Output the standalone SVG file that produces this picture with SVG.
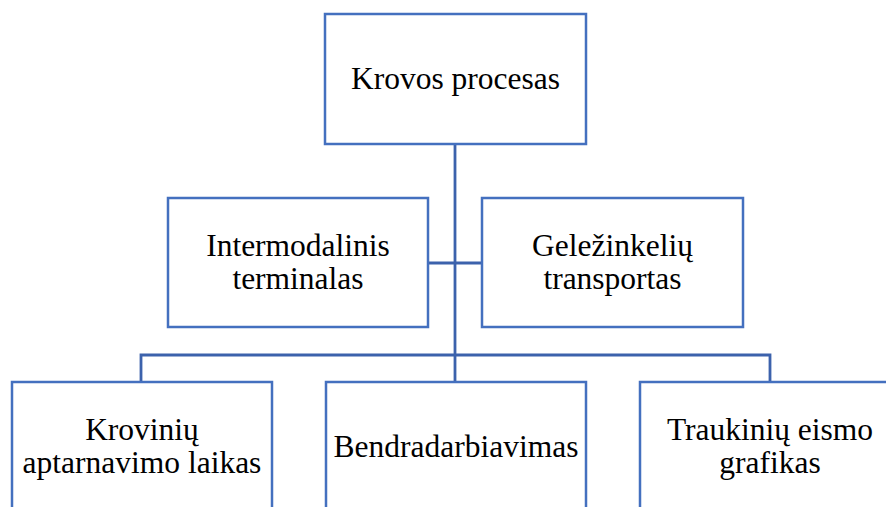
<svg xmlns="http://www.w3.org/2000/svg" width="886" height="507" viewBox="0 0 886 507">
  <style>
    .box { fill: #ffffff; stroke: #4470BF; stroke-width: 2.5; }
    .link { fill: none; stroke: #3C62AC; stroke-width: 2.8; }
    .label { font-family: "Liberation Serif", "Times New Roman", serif; font-size: 31.5px; fill: #000000; text-anchor: middle; }
  </style>
  <rect width="886" height="507" fill="#ffffff"/>

  <!-- connectors -->
  <g id="connectors">
    <path class="link" d="M455,144 V355"/>
    <path class="link" d="M428,263 H482"/>
    <path class="link" d="M141,382 V355 H770 V382"/>
    <path class="link" d="M455,355 V382"/>
  </g>

  <g id="node-krovos">
    <rect class="box" x="325" y="14" width="261" height="130"/>
    <text class="label" x="455.5" y="89">Krovos procesas</text>
  </g>

  <g id="node-intermodalinis">
    <rect class="box" x="168" y="198" width="260" height="129"/>
    <text class="label" x="298" y="256">Intermodalinis</text>
    <text class="label" x="298" y="289">terminalas</text>
  </g>

  <g id="node-gelezinkeliu">
    <rect class="box" x="482" y="198" width="261" height="129"/>
    <text class="label" x="612.5" y="256">Geležinkelių</text>
    <text class="label" x="612.5" y="289">transportas</text>
  </g>

  <g id="node-kroviniu">
    <rect class="box" x="12" y="382" width="260" height="140"/>
    <text class="label" x="142" y="440">Krovinių</text>
    <text class="label" x="142" y="473">aptarnavimo laikas</text>
  </g>

  <g id="node-bendradarbiavimas">
    <rect class="box" x="326" y="382" width="260" height="140"/>
    <text class="label" x="456" y="457">Bendradarbiavimas</text>
  </g>

  <g id="node-traukiniu">
    <rect class="box" x="640" y="382" width="260" height="140"/>
    <text class="label" x="770" y="440">Traukinių eismo</text>
    <text class="label" x="770" y="473">grafikas</text>
  </g>
</svg>
